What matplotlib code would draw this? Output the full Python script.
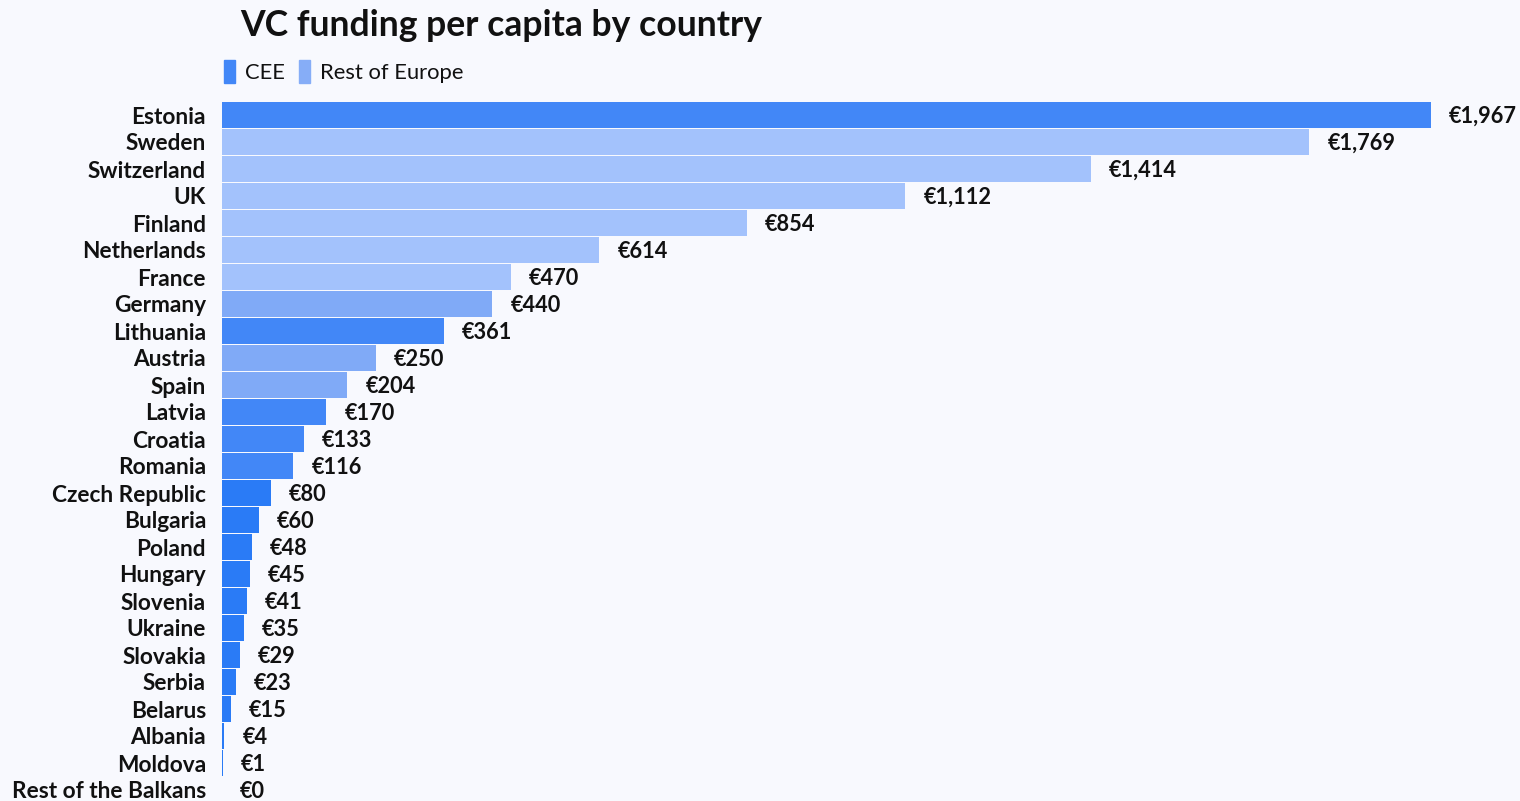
import matplotlib.pyplot as plt
import matplotlib.patches as mpatches

countries = ['Estonia', 'Sweden', 'Switzerland', 'UK', 'Finland', 'Netherlands', 'France',
             'Germany', 'Lithuania', 'Austria', 'Spain', 'Latvia', 'Croatia', 'Romania',
             'Czech Republic', 'Bulgaria', 'Poland', 'Hungary', 'Slovenia', 'Ukraine',
             'Slovakia', 'Serbia', 'Belarus', 'Albania', 'Moldova', 'Rest of the Balkans']
values = [1967, 1769, 1414, 1112, 854, 614, 470, 440, 361, 250, 204, 170, 133, 116,
          80, 60, 48, 45, 41, 35, 29, 23, 15, 4, 1, 0]
bar_colors = ['#4287f7', '#a3c2fc', '#a3c2fc', '#a3c2fc', '#a3c2fc', '#a3c2fc', '#a3c2fc',
              '#80aaf7', '#4287f7', '#80aaf7', '#80aaf7', '#4287f7', '#4287f7', '#4287f7',
              '#2a7bf6', '#2a7bf6', '#2a7bf6', '#2a7bf6', '#2a7bf6', '#2a7bf6',
              '#2a7bf6', '#2a7bf6', '#2a7bf6', '#2a7bf6', '#2a7bf6', '#2a7bf6']
legend_labels = ['CEE', 'Rest of Europe']
legend_colors = ['#4287f7', '#86adf7']

bg = '#f8f9fe'
plt.rcParams['font.family'] = ['Lato', 'DejaVu Sans']

W, H = 1520, 801
fig = plt.figure(figsize=(W / 100, H / 100), dpi=100, facecolor=bg)

# axes: left edge at x=222px, rows 27px tall starting at y=101.5px
left = 222 / W
top = 101.5 / H
row_h = 27
n = len(countries)
height = n * row_h / H
ax = fig.add_axes([left, 1 - top - height, 1 - left, height])
ax.set_facecolor(bg)

px_per_unit = 1209 / 1967
ax.set_xlim(0, (W - 222) / px_per_unit)
ax.set_ylim(n - 0.5, -0.5)

ypos = list(range(n))
ax.barh(ypos, values, height=0.96, color=bar_colors, edgecolor='none')

for y, v in zip(ypos, values):
    ax.text(v + 18 / px_per_unit, y + 0.06, '€{:,}'.format(v), va='center', ha='left',
            fontsize=15.7, fontweight='bold', color='#111111', clip_on=False)

ax.set_yticks(ypos)
ax.set_yticklabels(countries, fontsize=16.3, fontweight='bold', color='#111111')
for lab in ax.get_yticklabels():
    lab.set_verticalalignment('center_baseline')
ax.tick_params(axis='y', length=0, pad=11.5)
ax.set_xticks([])
for s in ax.spines.values():
    s.set_visible(False)

fig.text(240 / W, 1 - 25 / H, 'VC funding per capita by country', fontsize=25.6,
         fontweight='bold', va='center', ha='left', color='#111111')

# legend
lx = [224, 299]
tx = [245, 320]
for x0, t0, lab, col in zip(lx, tx, legend_labels, legend_colors):
    fig.patches.append(mpatches.Rectangle((x0 / W, 1 - 83 / H), 11 / W, 23 / H,
                                          transform=fig.transFigure, color=col))
    fig.text(t0 / W, 1 - 73 / H, lab, fontsize=15.8, va='center', ha='left', color='#111111')

fig.savefig('out.png', dpi=100, facecolor=bg)
